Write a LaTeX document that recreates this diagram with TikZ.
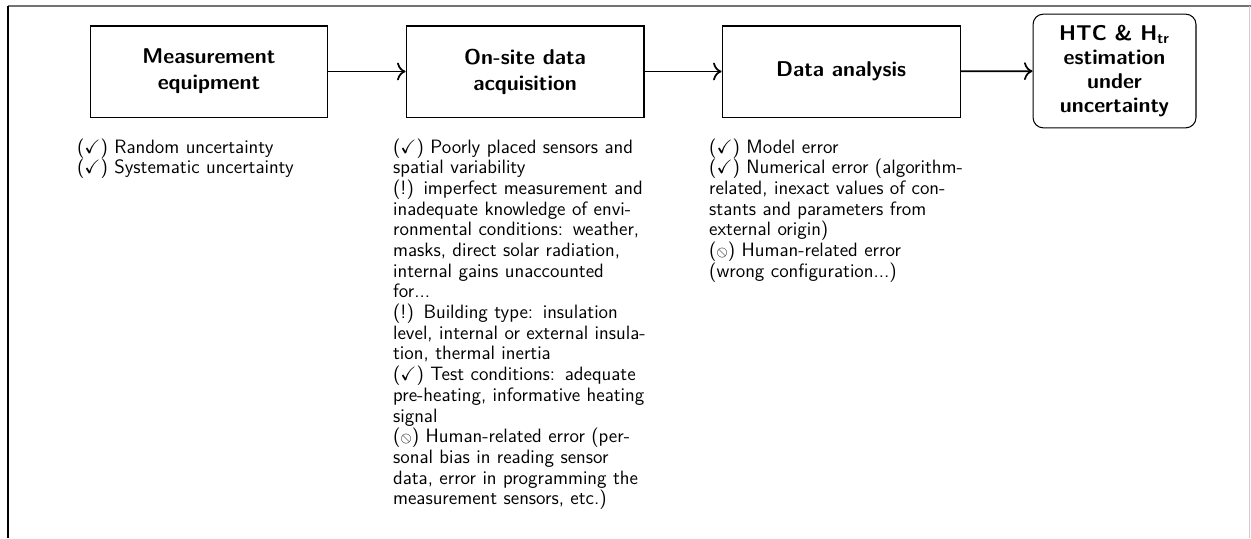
\documentclass[tikz,border=0pt]{standalone}
\usepackage{amssymb}
\usetikzlibrary{positioning,arrows.meta}
\renewcommand{\familydefault}{\sfdefault}
\newcommand{\okmark}{($\scriptstyle\checkmark$)}
\newcommand{\warnmark}{(!)}
\newcommand{\humanmark}{(\reflectbox{$\scriptstyle\oslash$})}
\tikzset{
  stage/.style={draw,line width=0.6pt,minimum width=138pt,minimum height=52.8pt,
    align=center,font=\fontsize{12.4}{15}\selectfont\bfseries},
  goal/.style={draw,line width=0.6pt,rounded corners=6pt,minimum width=94.5pt,
    minimum height=66pt,align=center,font=\fontsize{12.4}{14}\selectfont\bfseries,inner sep=1pt},
  note/.style={text width=153pt,align=left,inner sep=0pt,font=\fontsize{11.2}{12}\selectfont},
  flow/.style={line width=1pt,-{Computer Modern Rightarrow[scale=1.3]}},
}
\begin{document}
\begin{tikzpicture}[x=0.58pt,y=0.58pt,node distance=44.7pt]
  \useasboundingbox (0,0) rectangle (1251,538);
  % page edges
  \draw[black!55,line width=0.8pt] (8,532) -- (1251,532);
  \draw[line width=0.7pt] (8,532) -- (8,0);
  \draw[black!20,line width=0.7pt] (1249.5,532) -- (1249.5,0);
  % stages
  \node[stage] (meas) at (209,466.5) {Measurement\\equipment};
  \node[stage,right=of meas] (acq) {On-site data\\acquisition};
  \node[stage,right=of acq] (ana) {Data analysis};
  \node[goal] (htc) at (1114.5,467) {HTC \& H\textsubscript{tr}\\estimation\\under\\uncertainty};
  \draw[flow] (meas) -- (acq);
  \draw[flow] (acq) -- (ana);
  \draw[flow] (ana) -- (htc);
  % error sources
  \node[note,below=12pt of meas] (measnote) {\okmark{} Random uncertainty\\
    \okmark{} Systematic uncertainty};
  \node[note,below=12pt of acq] (acqnote) {\okmark{} Poorly placed sensors and\\
    spatial variability\\
    \warnmark{} imperfect measurement and\\
    inadequate knowledge of envi-\\
    ronmental conditions: weather,\\
    masks, direct solar radiation,\\
    internal gains unaccounted\\
    for...\\
    \warnmark{} Building type: insulation\\
    level, internal or external insula-\\
    tion, thermal inertia\\
    \okmark{} Test conditions: adequate\\
    pre-heating, informative heating\\
    signal\\
    \humanmark{} Human-related error (per-\\
    sonal bias in reading sensor\\
    data, error in programming the\\
    measurement sensors, etc.)};
  \node[note,below=12pt of ana] (ananote) {\okmark{} Model error\\
    \okmark{} Numerical error (algorithm-\\
    related, inexact values of con-\\
    stants and parameters from\\
    external origin)\\
    \humanmark{} Human-related error\\
    (wrong configuration...)};
\end{tikzpicture}
\end{document}
